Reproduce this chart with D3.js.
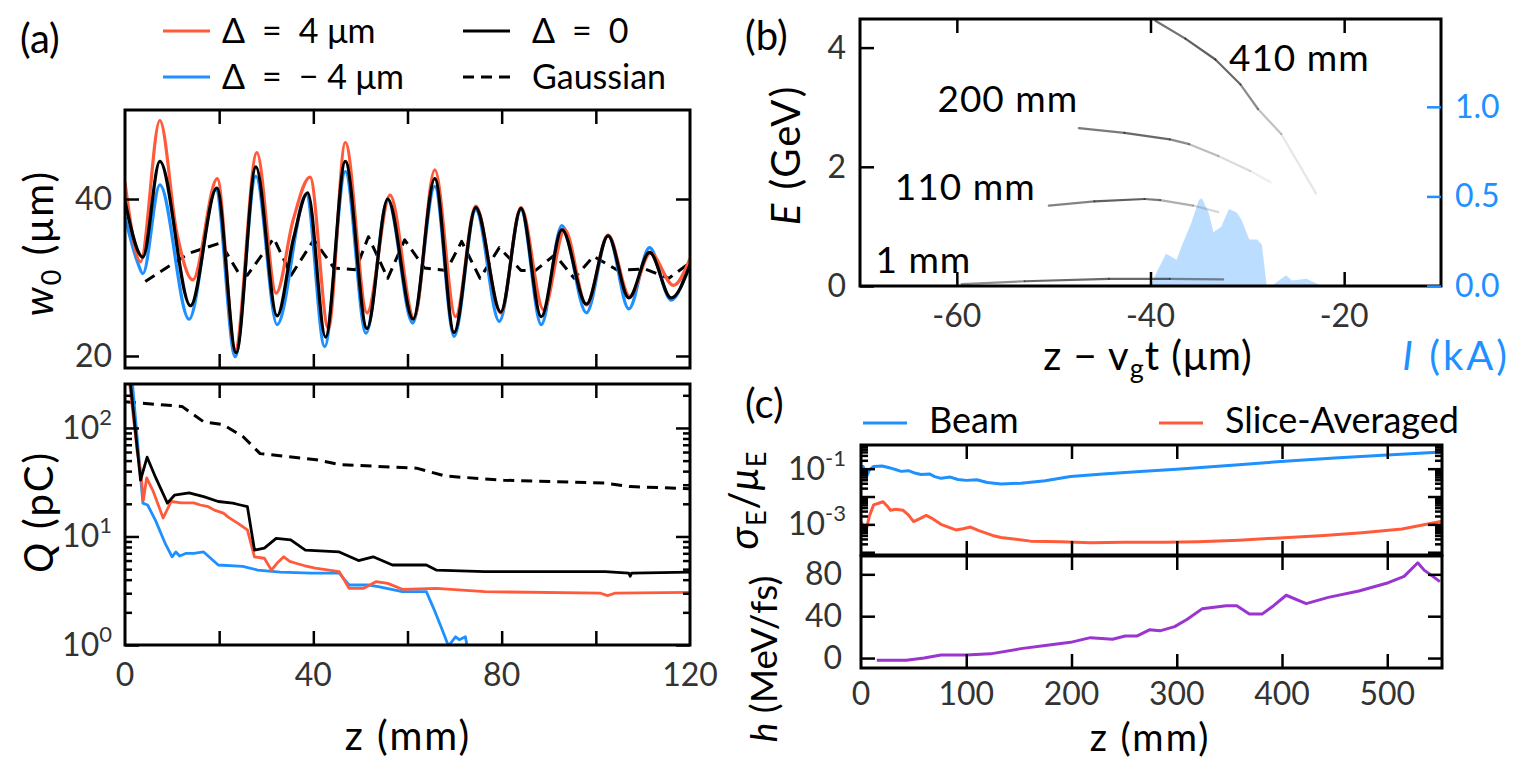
<!DOCTYPE html>
<html>
<head>
<meta charset="utf-8">
<script src="https://cdn.jsdelivr.net/npm/d3@7"></script>
<style>
  body { margin: 0; background: #fff; }
  text { font-family: Lato, "Open Sans", sans-serif; }
</style>
</head>
<body>
<script>
// ---- data: panel (a) top, beam waist w0 (um) vs z (mm)
let w0Pos = [[0,42.1],[3.3,32],[7.4,50],[11,35.7],[14.4,29.7],[19.6,42.6],[23.4,20.8],[28,45.9],[32.1,28],[35.7,37.3],[39.3,42.8],[43.2,23.5],[46.8,47.2],[51.4,25.5],[56.3,40.5],[61.4,24.8],[65.8,43.7],[70.2,25],[74.5,39.1],[79.8,25.5],[84.1,38.9],[88.9,25.9],[93.4,36.1],[98,26.5],[102.6,35.4],[107.2,27.6],[111.6,33.1],[116.5,29],[120,32.4]];
let w0Neg = [[0,37.7],[2.7,31.9],[3.8,30.5],[7.4,41.8],[13.6,24.7],[19.3,41.2],[23.4,19.9],[27.8,42.9],[32.3,24],[38.5,40.6],[42.4,21.2],[46.8,43.5],[51.2,22.9],[55.8,39.9],[61.1,24.2],[65.8,41.6],[69.9,22.5],[74.5,38.6],[79.5,24.4],[84.1,38.6],[88.4,24],[92.8,36.6],[98,25.5],[102.6,35.4],[107,26],[111.4,33.8],[116,27.1],[120,32.2]];
let w0Zero = [[0,39.7],[3.8,32.6],[7.4,44.8],[13.9,26.4],[19.5,41.4],[23.6,20.4],[27.8,44.1],[32.3,25.1],[35.8,35],[38.8,40.8],[42.6,22.4],[46.8,44.8],[51.4,23.5],[55.8,40],[61.2,24.7],[65.8,42.6],[69.9,23],[74.5,38.9],[79.8,25.6],[84.1,38.8],[88.4,25],[92.8,36.1],[98,26.6],[102.6,35.3],[107,27.4],[111.4,33.2],[116,27.4],[120,31.6]];
let w0Gauss = [[4.3,29.5],[13.6,33.1],[20.3,34.4],[24.4,30.3],[26,30.3],[31.6,35],[35.3,30.3],[40.1,34.8],[44.4,31.2],[49,31],[51.7,35.2],[55.8,29.9],[59.4,34.8],[63.6,31.2],[68.3,30.9],[71.5,34.6],[75.4,29.9],[79.5,33.8],[84.1,30.9],[87.2,30.9],[91.3,32.9],[95.4,29.9],[99.5,32.7],[104.7,30.9],[110.4,31.1],[115.5,29.9],[120,31.9]];

// ---- data: panel (a) bottom, charge Q (pC) vs z (mm)
let qPos = [[0.5,400],[2.6,60],[3.3,41],[3.9,21.6],[4.6,34.6],[6,26],[8.1,14.8],[9.8,21],[12,20.4],[14.6,20.4],[16,19.5],[17.7,18.8],[19,17.5],[20.9,16.4],[22,15],[24,13.2],[26,11.5],[27.5,6.5],[29.6,6.3],[31.1,4.9],[32.5,5.8],[33.7,6.5],[35,5.9],[36.3,5.67],[38,5.4],[40.4,5.1],[45.5,4.74],[47.6,3.33],[50.7,3.33],[53.3,3.83],[55.8,3.7],[58.9,3.26],[66.1,3.33],[76.4,3.1],[101,3.0],[102.5,2.85],[104,3.0],[120,3.05]];
let qNeg = [[1.2,400],[3.8,20.3],[4.8,19.5],[6.5,14],[8.5,8.7],[10,6.5],[10.8,7.2],[11.6,6.6],[13,7],[14.6,7],[16.7,7.2],[19.8,5.46],[25,5.3],[28.2,4.9],[33,4.7],[39.6,4.6],[45.5,4.6],[47.6,3.57],[51.8,3.57],[53.8,3.45],[58.9,3.1],[64,3.1],[65.5,2.2],[67.1,1.48],[68.7,0.98],[70.2,1.19],[71,1.12],[72.3,1.19],[72.8,0.9]];
let qZero = [[0.7,400],[3.3,33],[4.7,53.8],[6.5,35],[9,20.3],[10.5,24],[13.6,25.2],[16.7,23.3],[19.8,21],[22.9,20.3],[24.5,19.5],[26,18.8],[27.5,7.5],[29.6,7.8],[32.1,9.6],[35.2,9.3],[38.3,7.5],[45.5,7.2],[49.6,6],[52.7,6.5],[56.8,5.46],[64,5.46],[66.1,4.9],[76.4,4.74],[102,4.74],[107,4.6],[107.3,4.3],[107.6,4.6],[120,4.7]];
let qGauss = [[0,174],[12.1,158],[16.7,114],[20.9,107],[25.1,83],[28.7,58],[40.6,51],[45.5,46],[61.9,42.6],[68.1,36],[80.5,33],[102,31],[107.3,28.8],[120,27.6]];

// ---- data: panel (b), longitudinal phase space E (GeV) vs z - vg t (um), [x, E, density]
let ps1 = [[-59.5,0.03,0.45],[-53,0.08,0.8],[-44.3,0.12,0.9],[-38,0.12,0.8],[-32.5,0.11,0.45]];
let ps110 = [[-50.5,1.35,0.5],[-45.8,1.42,0.9],[-40.6,1.46,0.9],[-39,1.44,0.6],[-35.6,1.35,0.3],[-33,1.24,0.15]];
let ps200 = [[-47.4,2.65,0.6],[-42.7,2.57,0.9],[-38,2.46,0.8],[-36,2.38,0.5],[-33,2.18,0.25],[-29.7,1.93,0.15],[-27.6,1.74,0.06]];
let ps410 = [[-39.5,4.45,0.7],[-36.4,4.15,0.9],[-33.3,3.8,0.9],[-30.7,3.38,0.8],[-28.9,2.97,0.5],[-26.5,2.55,0.2],[-22.9,1.55,0.08]];
let psLabels = [["410 mm",-31.9,3.6],["200 mm",-62,2.92],["110 mm",-66.4,1.45],["1 mm",-68.4,0.22]];
// current profile I (kA)
let current = [[-40,0],[-39.4,0.073],[-38.4,0.18],[-37.3,0.146],[-36.8,0.22],[-35.8,0.35],[-35,0.48],[-34.7,0.49],[-34,0.41],[-33.5,0.3],[-32.7,0.33],[-31.9,0.43],[-31.1,0.41],[-30.6,0.37],[-29.8,0.26],[-29,0.26],[-28.5,0.23],[-28,0],[-27.5,0],[-26,0.06],[-25.4,0.03],[-23.9,0.04],[-22.3,0]];

// ---- data: panel (c), energy spread and chirp vs z (mm)
let beamSpread = [[0,0.11],[2,0.12],[5,0.05],[8,0.09],[12,0.12],[20,0.125],[26,0.11],[30,0.1],[34,0.09],[38,0.08],[45,0.085],[52,0.068],[57,0.062],[65,0.065],[70,0.052],[76,0.045],[85,0.05],[92,0.041],[100,0.038],[110,0.04],[120,0.032],[133,0.028],[152,0.03],[175,0.037],[199,0.052],[230,0.065],[265,0.079],[300,0.095],[359,0.138],[406,0.19],[450,0.24],[500,0.31],[552,0.4]];
let sliceSpread = [[0,0.0012],[3,0.0008],[5,0.00066],[8,0.002],[12,0.005],[21,0.0065],[25,0.0045],[28,0.0032],[33,0.0035],[40,0.0032],[45,0.0022],[50,0.00126],[56,0.0016],[62,0.0021],[68,0.0016],[76,0.001],[90,0.00063],[97,0.0007],[104,0.0008],[112,0.0006],[125,0.0004],[133,0.00034],[161,0.00025],[190,0.00024],[218,0.00022],[250,0.00023],[289,0.00023],[320,0.00024],[359,0.00027],[406,0.00034],[440,0.0004],[476,0.0005],[514,0.00068],[552,0.0013]];
let chirp = [[15,-2],[43,-2],[60,0],[76,3],[100,3],[123,4],[152,9],[175,12],[199,15],[218,19.5],[239,18],[251,21],[262,21],[274,27],[284,26],[298,30],[310,37],[324,47],[347,50],[357,50],[369,42],[381,42],[392,50],[404,60],[423,52],[444,58],[473,64],[501,72],[516,78],[529,91],[535,84],[542,79],[550,73]];

// ---- tick values
let zTicksA = [0, 20, 40, 60, 80, 100, 120];
let zLabelsA = [0, 40, 80, 120];
let w0Ticks = [20, 40];
let qMajor = [1, 10, 100];
let xTicksB = [-60, -40, -20];
let eTicks = [0, 2, 4];
let iTicks = [0, 0.5, 1.0];
let zTicksC = [0, 100, 200, 300, 400, 500];
let spreadMajor = [1e-4, 1e-3, 1e-2, 1e-1];
let spreadLabels = [-1, -3];
let chirpTicks = [0, 40, 80];

const red = "#ff5b3b", blue = "#1e90ff", purple = "#9b35d0", tickCol = "#333";
const FT = 32;
const ES = "\u2002"; // en space, matplotlib-like gaps around "="

let svg = d3.select("body").append("svg").attr("width", 1525).attr("height", 763);

// panel frames
let A1 = {x0: 125, x1: 690, y0: 110, y1: 368};
let A2 = {x0: 125, x1: 690, y0: 384, y1: 645};
let B  = {x0: 860, x1: 1441, y0: 19, y1: 286};
let C1 = {x0: 861, x1: 1442, y0: 445, y1: 555};
let C2 = {x0: 861, x1: 1442, y0: 556, y1: 668};

// scales
let xA = d3.scaleLinear().domain([0, 120]).range([A1.x0, A1.x1]);
let yW = d3.scaleLinear().domain([18.47, 51.34]).range([A1.y1, A1.y0]);
let yQ = d3.scaleLog().domain([1, Math.pow(10, 2.405)]).range([A2.y1, A2.y0]);
let xB = d3.scaleLinear().domain([-70, -10]).range([B.x0, B.x1]);
let yE = d3.scaleLinear().domain([0, 4.48]).range([B.y1, B.y0]);
let yI = d3.scaleLinear().domain([0, 1.49]).range([B.y1, B.y0]);
let xC = d3.scaleLinear().domain([0, 552]).range([C1.x0, C1.x1]);
let yS = d3.scaleLog().domain([Math.pow(10, -4.1), Math.pow(10, -0.15)]).range([C1.y1, C1.y0]);
let yH = d3.scaleLinear().domain([-9.5, 97.5]).range([C2.y1, C2.y0]);

let clipN = 0;
function plotArea(f) {
  let id = "clip" + (clipN++);
  svg.append("clipPath").attr("id", id).append("rect")
    .attr("x", f.x0).attr("y", f.y0).attr("width", f.x1 - f.x0).attr("height", f.y1 - f.y0);
  return svg.append("g").attr("clip-path", "url(#" + id + ")");
}

function frame(f) {
  svg.append("rect").attr("x", f.x0).attr("y", f.y0)
    .attr("width", f.x1 - f.x0).attr("height", f.y1 - f.y0)
    .attr("fill", "none").attr("stroke", "#000").attr("stroke-width", 3);
}

// inward ticks on one side of a frame
function ticks(f, scale, side, values, len, color) {
  let gen = {bottom: d3.axisBottom, top: d3.axisTop, left: d3.axisLeft, right: d3.axisRight}[side](scale)
    .tickValues(values).tickSize(-len).tickSizeOuter(0).tickFormat("");
  let tr = {bottom: [0, f.y1], top: [0, f.y0], left: [f.x0, 0], right: [f.x1, 0]}[side];
  let g = svg.append("g").attr("transform", "translate(" + tr + ")").call(gen);
  g.select(".domain").remove();
  g.selectAll("line").attr("stroke", color || "#000").attr("stroke-width", 2.5);
}

function minorLog(lo, hi) {
  let out = [];
  for (let e = lo; e <= hi; e++) for (let m = 2; m <= 9; m++) out.push(m * Math.pow(10, e));
  return out;
}

function xLabels(vals, scale, y, fmt) {
  svg.append("g").selectAll("text").data(vals).enter().append("text")
    .attr("x", d => scale(d)).attr("y", y).attr("text-anchor", "middle")
    .attr("font-size", FT).attr("fill", tickCol).text(fmt || (d => d));
}

function yLabels(vals, scale, x, fmt, color, anchor) {
  svg.append("g").selectAll("text").data(vals).enter().append("text")
    .attr("x", x).attr("y", d => scale(d) + 11).attr("text-anchor", anchor || "end")
    .attr("font-size", FT).attr("fill", color || tickCol).text(fmt || (d => d));
}

function powLabels(exps, scale, x) {
  let t = svg.append("g").selectAll("text").data(exps).enter().append("text")
    .attr("x", x).attr("y", d => scale(Math.pow(10, d)) + 11).attr("text-anchor", "end")
    .attr("font-size", FT).attr("fill", tickCol);
  t.append("tspan").text("10");
  t.append("tspan").attr("dy", -14).attr("font-size", 22).text(d => d);
}

function rotLabel(x, y, parts, size, spacing) {
  let t = svg.append("text").attr("transform", "translate(" + x + "," + y + ") rotate(-90)")
    .attr("text-anchor", "middle").attr("font-size", size || 40)
    .attr("letter-spacing", spacing == null ? 2 : spacing);
  addParts(t, parts);
  return t;
}

// parts: [text, style, shift]; "i" italic, "sub" subscript, "up" returns to baseline
function addParts(t, parts) {
  parts.forEach(p => {
    let s = t.append("tspan").text(p[0]);
    if (p[1] === "i") s.attr("font-style", "italic");
    if (p[1] === "sub") s.attr("font-size", 27).attr("dy", 8);
    if (p[2] === "up") s.attr("dy", -8);
  });
}

function drawLine(g, data, sx, sy, color, width, dash, curve) {
  let l = d3.line().x(d => sx(d[0])).y(d => sy(d[1])).curve(curve || d3.curveLinear);
  g.append("path").datum(data).attr("d", l).attr("fill", "none")
    .attr("stroke", color).attr("stroke-width", width)
    .attr("stroke-dasharray", dash || null).attr("stroke-linejoin", "round");
}

// ================= panel (a) top =================
let gA1 = plotArea(A1);
drawLine(gA1, w0Gauss, xA, yW, "#000", 3, "11,7");
drawLine(gA1, w0Neg, xA, yW, blue, 3.2, null, d3.curveMonotoneX);
drawLine(gA1, w0Pos, xA, yW, red, 3.2, null, d3.curveMonotoneX);
drawLine(gA1, w0Zero, xA, yW, "#000", 3.2, null, d3.curveMonotoneX);
frame(A1);
ticks(A1, xA, "top", zTicksA.slice(1, -1), 14);
ticks(A1, xA, "bottom", zTicksA.slice(1, -1), 14);
ticks(A1, yW, "left", w0Ticks, 14);
ticks(A1, yW, "right", w0Ticks, 14);
yLabels(w0Ticks, yW, 112);
rotLabel(53, 243, [["w", "i"], ["0", "sub"], [" (μm)", null, "up"]]);

// legend (a)
let legA = [
  {x: 163, tx: 222, y: 31, color: red, dash: null, label: "Δ" + ES + "=" + ES + "4 μm"},
  {x: 163, tx: 222, y: 77, color: blue, dash: null, label: "Δ" + ES + "=" + ES + "− 4 μm"},
  {x: 463, tx: 532, y: 31, color: "#000", dash: null, label: "Δ" + ES + "=" + ES + "0"},
  {x: 463, tx: 532, y: 77, color: "#000", dash: "11,7", label: "Gaussian"}
];
legA.forEach(d => {
  svg.append("line").attr("x1", d.x).attr("x2", d.x + 47).attr("y1", d.y).attr("y2", d.y)
    .attr("stroke", d.color).attr("stroke-width", 3.2).attr("stroke-dasharray", d.dash);
  svg.append("text").attr("x", d.tx).attr("y", d.y + 12).attr("font-size", 34).text(d.label);
});

// ================= panel (a) bottom =================
let gA2 = plotArea(A2);
drawLine(gA2, qGauss, xA, yQ, "#000", 3, "11,7");
drawLine(gA2, qNeg, xA, yQ, blue, 2.8);
drawLine(gA2, qPos, xA, yQ, red, 2.8);
drawLine(gA2, qZero, xA, yQ, "#000", 2.8);
frame(A2);
ticks(A2, xA, "top", zTicksA.slice(1, -1), 14);
ticks(A2, xA, "bottom", zTicksA.slice(1, -1), 14);
ticks(A2, yQ, "left", qMajor, 14);
ticks(A2, yQ, "right", qMajor, 14);
ticks(A2, yQ, "left", minorLog(0, 2).filter(v => v < 250), 7);
ticks(A2, yQ, "right", minorLog(0, 2).filter(v => v < 250), 7);
powLabels([0, 1, 2], yQ, 112);
xLabels(zLabelsA, xA, 686);
rotLabel(53, 512, [["Q", "i"], [" (pC)"]]);
svg.append("text").attr("x", 408).attr("y", 750).attr("text-anchor", "middle")
  .attr("font-size", 40).attr("letter-spacing", 2).text("z (mm)");
svg.append("text").attr("x", 20).attr("y", 53).attr("font-size", 40).text("(a)");

// ================= panel (b) =================
let gB = plotArea(B);
let area = d3.area().x(d => xB(d[0])).y0(yI(0)).y1(d => yI(d[1]));
gB.append("path").datum(current).attr("d", area).attr("fill", blue).attr("fill-opacity", 0.3);
[ps1, ps110, ps200, ps410].forEach(c => {
  for (let i = 0; i < c.length - 1; i++) {
    gB.append("line")
      .attr("x1", xB(c[i][0])).attr("y1", yE(c[i][1]))
      .attr("x2", xB(c[i + 1][0])).attr("y2", yE(c[i + 1][1]))
      .attr("stroke", "#222").attr("stroke-width", 2.2).attr("stroke-linecap", "round")
      .attr("stroke-opacity", (c[i][2] + c[i + 1][2]) / 2 * 0.8);
  }
});
svg.append("g").selectAll("text").data(psLabels).enter().append("text")
  .attr("x", d => xB(d[1])).attr("y", d => yE(d[2])).attr("font-size", 37)
  .attr("letter-spacing", 1).text(d => d[0]);
frame(B);
ticks(B, xB, "top", xTicksB, 14);
ticks(B, xB, "bottom", xTicksB, 14);
ticks(B, yE, "left", eTicks, 14);
ticks(B, yI, "right", iTicks, 14, blue);
xLabels(xTicksB, xB, 327);
yLabels(eTicks, yE, 846);
yLabels(iTicks, yI, 1455, d3.format(".1f"), blue, "start");
rotLabel(800, 155, [["E", "i"], [" (GeV)"]]);
let lbB = svg.append("text").attr("x", 1148).attr("y", 370).attr("text-anchor", "middle")
  .attr("font-size", 40).attr("letter-spacing", 1);
addParts(lbB, [["z " + "− v"], ["g", "sub"], ["t (μm)", null, "up"]]);
let lbI = svg.append("text").attr("x", 1510).attr("y", 370).attr("text-anchor", "end")
  .attr("font-size", 40).attr("letter-spacing", 3).attr("fill", blue);
addParts(lbI, [["I", "i"], [" (kA)"]]);
svg.append("text").attr("x", 745).attr("y", 50).attr("font-size", 40).text("(b)");

// ================= panel (c) =================
let gC1 = plotArea(C1);
drawLine(gC1, beamSpread, xC, yS, blue, 3);
drawLine(gC1, sliceSpread, xC, yS, red, 3);
let gC2 = plotArea(C2);
drawLine(gC2, chirp, xC, yH, purple, 3);
frame(C1);
frame(C2);
[C1, C2].forEach(f => {
  ticks(f, xC, "top", zTicksC.slice(1), 14);
  ticks(f, xC, "bottom", zTicksC.slice(1), 14);
});
ticks(C1, yS, "left", spreadMajor, 14);
ticks(C1, yS, "right", spreadMajor, 14);
ticks(C1, yS, "left", minorLog(-5, -1).filter(v => v > yS.domain()[0] && v < yS.domain()[1]), 7);
ticks(C1, yS, "right", minorLog(-5, -1).filter(v => v > yS.domain()[0] && v < yS.domain()[1]), 7);
ticks(C2, yH, "left", chirpTicks, 14);
ticks(C2, yH, "right", chirpTicks, 14);
powLabels(spreadLabels, yS, 846);
yLabels(chirpTicks, yH, 842);
xLabels(zTicksC, xC, 705);
rotLabel(758, 500, [["σ", "i"], ["E", "sub"], ["/", null, "up"], ["μ", "i"], ["E", "sub"]], 40, 1);
rotLabel(777, 659, [["h", "i"], [" (MeV/fs)"]], 37, 0);
svg.append("text").attr("x", 1150).attr("y", 751).attr("text-anchor", "middle")
  .attr("font-size", 38).attr("letter-spacing", 2).text("z (mm)");
svg.append("text").attr("x", 745).attr("y", 418).attr("font-size", 40).text("(c)");

// legend (c)
let legC = [
  {x: 863, color: blue, label: "Beam"},
  {x: 1159, color: red, label: "Slice-Averaged"}
];
legC.forEach(d => {
  svg.append("line").attr("x1", d.x).attr("x2", d.x + 44).attr("y1", 423).attr("y2", 423)
    .attr("stroke", d.color).attr("stroke-width", 3.2);
  svg.append("text").attr("x", d.x + 66).attr("y", 433).attr("font-size", 36).text(d.label);
});
</script>
</body>
</html>
